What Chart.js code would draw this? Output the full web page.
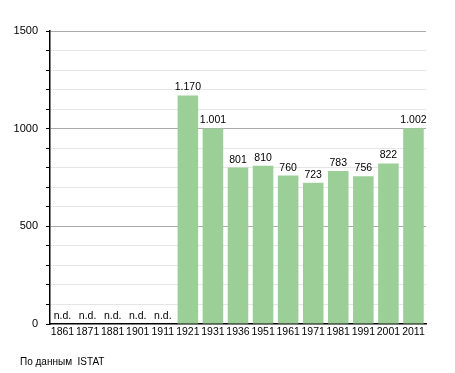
<!DOCTYPE html>
<html>
<head>
<meta charset="utf-8">
<script src="https://cdn.jsdelivr.net/npm/chart.js@4"></script>
<style>
  html, body { margin: 0; padding: 0; background: #fff; }
  #wrap { width: 455px; height: 373px; position: relative; }
</style>
</head>
<body>
<div id="wrap"><canvas id="c" width="455" height="373"></canvas></div>
<script>
const years = ['1861', '1871', '1881', '1901', '1911', '1921', '1931', '1936', '1951', '1961', '1971', '1981', '1991', '2001', '2011'];
const population = [null, null, null, null, null, 1170, 1001, 801, 810, 760, 723, 783, 756, 822, 1002];
const sourceNote = 'По данным  ISTAT';

const FONT = '"Liberation Sans", Arial, sans-serif';

// thousands with a dot, like 1.170
function fmt(v) {
  return String(v).replace(/\B(?=(\d{3})+(?!\d))/g, '.');
}

const labelPlugin = {
  id: 'labels',
  afterDatasetsDraw(chart) {
    const ctx = chart.ctx;
    const meta = chart.getDatasetMeta(0);
    const yScale = chart.scales.y;
    ctx.save();
    ctx.font = '10.5px ' + FONT;
    ctx.fillStyle = '#000';
    ctx.textAlign = 'center';
    ctx.textBaseline = 'alphabetic';
    population.forEach((v, i) => {
      const x = chart.scales.x.getPixelForValue(i);
      if (v === null) {
        ctx.fillText('n.d.', x, yScale.getPixelForValue(0) - 5);
      } else {
        ctx.fillText(fmt(v), x, meta.data[i].y - 5);
      }
    });
    // source note
    ctx.textAlign = 'left';
    ctx.font = '10px ' + FONT;
    ctx.fillText(sourceNote, 20, 365);
    ctx.restore();
  }
};

new Chart(document.getElementById('c'), {
  type: 'bar',
  data: {
    labels: years,
    datasets: [{
      data: population,
      backgroundColor: '#9ccf98',
      barPercentage: 0.82,
      categoryPercentage: 1.0
    }]
  },
  options: {
    responsive: false,
    animation: false,
    layout: { padding: { left: 0, right: 29, top: 31, bottom: 29 } },
    plugins: { legend: { display: false }, tooltip: { enabled: false } },
    scales: {
      x: {
        grid: { display: false, drawTicks: false },
        border: { color: '#000', width: 1.5 },
        ticks: { color: '#000', font: { family: FONT, size: 10.5 }, padding: 2, maxRotation: 0, autoSkip: false },
        afterFit(s) { s.height = 20; }
      },
      y: {
        min: 0,
        max: 1500,
        border: { color: '#000', width: 1.5 },
        grid: {
          color: c => (c.tick.value === 0 ? 'rgba(0,0,0,0)' : (c.tick.value % 500 === 0 ? '#aaaaaa' : '#e6e6e6')),
          tickColor: '#000',
          tickLength: 4,
          drawTicks: true
        },
        ticks: {
          stepSize: 100,
          color: '#000',
          font: { family: FONT, size: 11 },
          padding: 8,
          callback: v => (v % 500 === 0 ? v : '')
        },
        afterFit(s) { s.width = 50; }
      }
    }
  },
  plugins: [labelPlugin]
});
</script>
</body>
</html>
